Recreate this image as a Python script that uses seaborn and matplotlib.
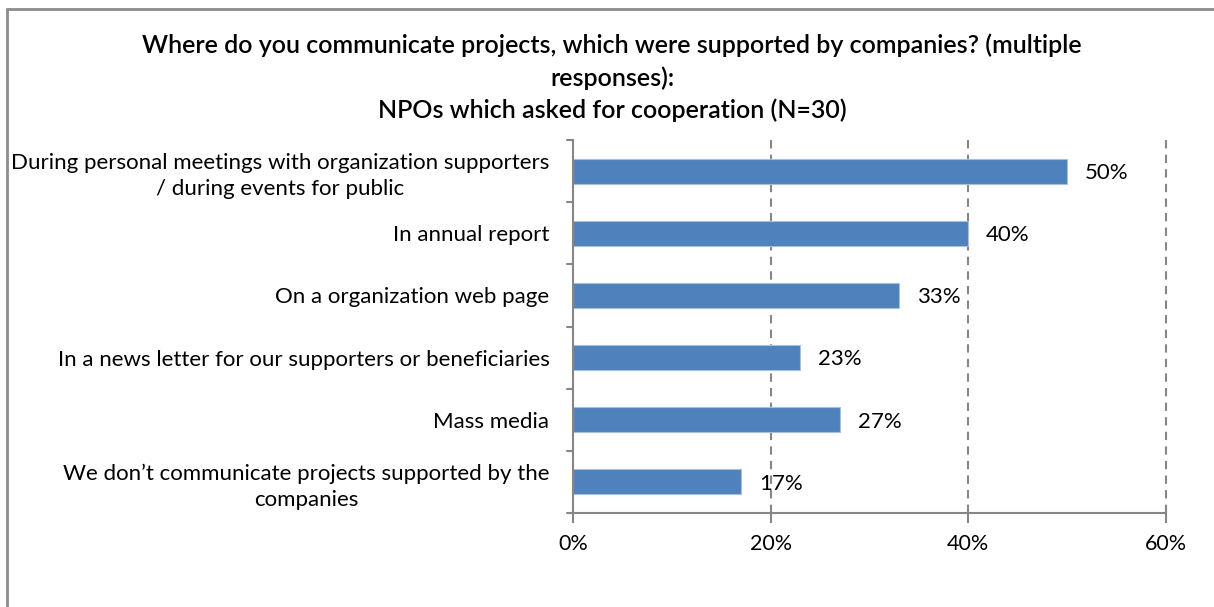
import matplotlib
matplotlib.use("Agg")
import matplotlib.pyplot as plt
from matplotlib.lines import Line2D
import seaborn as sns
import pandas as pd

categories = [
    "During personal meetings with organization supporters\n/ during events for public",
    "In annual report",
    "On a organization web page",
    "In a news letter for our supporters or beneficiaries",
    "Mass media",
    "We don\u2019t communicate projects supported by the\ncompanies",
]
shares = [50, 40, 33, 23, 27, 17]
value_labels = ["50%", "40%", "33%", "23%", "27%", "17%"]
x_ticks = [0, 20, 40, 60]
x_tick_labels = ["0%", "20%", "40%", "60%"]
title = ("Where do you communicate projects, which were supported by companies? (multiple\n"
         "responses):\nNPOs which asked for cooperation (N=30)")

sns.set_theme(style="white")
plt.rcParams["font.family"] = ["Lato", "DejaVu Sans"]

W, H = 1214, 607
fig = plt.figure(figsize=(W / 100, H / 100), dpi=100)
ax = fig.add_axes([573 / W, 1 - 513 / H, (1166 - 573) / W, (513 - 140) / H])

df = pd.DataFrame({"category": categories, "share": shares})
sns.barplot(data=df, x="share", y="category", color="#4F81BD", width=0.4,
            edgecolor="#A7C0DE", linewidth=0.8, ax=ax, saturation=1)

ax.set_xlim(0, 60)
ax.set_ylim(len(categories) - 0.5, -0.5)
ax.set_xticks(x_ticks)
ax.set_xticklabels(x_tick_labels, fontsize=15.5, color="black")
ax.set_xlabel("")
ax.set_ylabel("")
ax.tick_params(axis="y", labelsize=16, length=0, pad=17, labelcolor="black")
ax.tick_params(axis="x", length=7, color="#868686", width=1.5, pad=8, direction="out",
               bottom=True)
for lbl in ax.get_yticklabels():
    lbl.set_multialignment("center")
    lbl.set_linespacing(1.35)

# category boundary ticks on the value axis
for b in range(len(categories) + 1):
    ax.plot([-0.6, 0], [b - 0.5, b - 0.5], color="#868686", lw=1.5,
            clip_on=False, zorder=3)

# dashed grid lines
for t in x_ticks[1:]:
    ax.axvline(t, color="#868686", lw=1.5, ls=(0, (4, 3)), zorder=0, clip_on=False)

for side in ["top", "right"]:
    ax.spines[side].set_visible(False)
for side in ["left", "bottom"]:
    ax.spines[side].set_color("#868686")
    ax.spines[side].set_linewidth(1.5)

for i, (v, s) in enumerate(zip(shares, value_labels)):
    ax.text(v + 1.8, i + 0.03, s, va="center", ha="left", fontsize=16, color="black")

fig.text(612 / W, 1 - 78 / H, title, ha="center", va="center", fontsize=18,
         linespacing=1.45, fontweight="semibold", color="black",
         transform=fig.transFigure)

# outer chart border (left and top edges visible)
fig.add_artist(Line2D([7 / W, 7 / W], [0, 1 - 9 / H], transform=fig.transFigure,
                      color="#8C8C8C", lw=2))
fig.add_artist(Line2D([7 / W, 1], [1 - 9 / H, 1 - 9 / H], transform=fig.transFigure,
                      color="#8C8C8C", lw=2))

fig.savefig("out.png", dpi=100)
